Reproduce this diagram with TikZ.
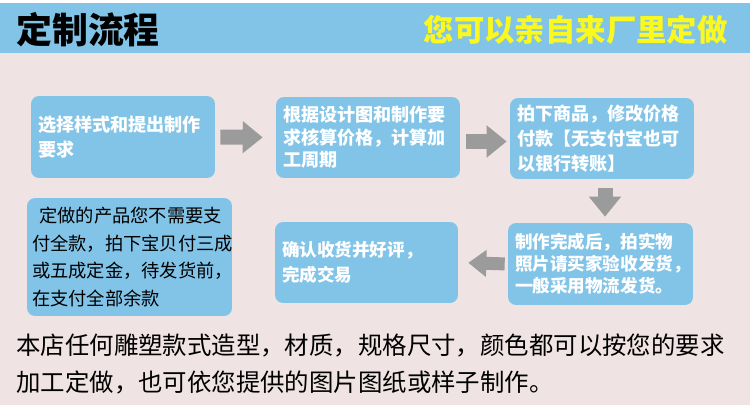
\documentclass[tikz,border=0pt]{standalone}
\usepackage{fontspec}
\setmainfont{Noto Sans CJK SC}
\usetikzlibrary{arrows.meta,positioning}

\definecolor{bandblue}{RGB}{130,196,232}
\definecolor{boxblue}{RGB}{130,196,232}
\definecolor{paper}{RGB}{239,227,227}
\definecolor{sloganyellow}{RGB}{250,248,30}
\definecolor{flowgray}{RGB}{155,155,155}

\begin{document}
\begin{tikzpicture}[
  x=0.02cm, y=-0.02cm,
  every node/.style={font=\fontsize{10.3}{13}\selectfont},
  box/.style={
    fill=boxblue,
    rounded corners=0.16cm,
    inner xsep=0.14cm,
    inner ysep=0pt,
    align=left,
    text=white
  },
  flow/.style={
    draw=flowgray,
    line width=0.3cm,
    -{Triangle[length=0.4cm,width=0.62cm]}
  }
]
% background and header band
\fill[paper] (0,0) rectangle (750,405);
\fill[white] (0,0) rectangle (750,3);
\fill[bandblue] (0,3) rectangle (750,53);
\useasboundingbox (0,0) rectangle (750,405);

\node[anchor=west, inner sep=0, font=\fontsize{20.4}{24}\selectfont\bfseries] (title) at (16,30) {定制流程};
\node[anchor=east, inner sep=0, text=sloganyellow, font=\fontsize{17.3}{20}\selectfont\bfseries] (slogan) at (728,30) {您可以亲自来厂里定做};

% process steps
\node[box, minimum width=3.68cm, minimum height=1.64cm, text width=3.4cm,
  font=\fontsize{10.3}{14.2}\selectfont\bfseries] (choose) at (123,137)
  {选择样式和提出制作\\要求};
\node[box, minimum width=3.68cm, minimum height=1.62cm, text width=3.4cm,
  font=\fontsize{10.3}{12.8}\selectfont\bfseries] (quote) at (368,137.5)
  {根据设计图和制作要\\求核算价格，计算加\\工周期};
\node[box, minimum width=3.68cm, minimum height=1.62cm, text width=3.4cm,
  font=\fontsize{10.3}{14.2}\selectfont\bfseries] (order) at (602,138.5)
  {拍下商品，修改价格\\付款【无支付宝也可\\以银行转账】};
\node[box, minimum width=3.7cm, minimum height=1.64cm, text width=3.42cm,
  font=\fontsize{10}{12.6}\selectfont\bfseries] (ship) at (600.5,264)
  {制作完成后，拍实物\\照片请买家验收发货，\\一般采用物流发货。};
\node[box, minimum width=3.66cm, minimum height=1.62cm, text width=3.38cm,
  font=\fontsize{10}{14.2}\selectfont\bfseries] (confirm) at (366.5,262.5)
  {确认收货并好评，\\完成交易};
\node[box, minimum width=4.1cm, minimum height=2.36cm, text width=3.9cm,
  inner xsep=0.1cm, text=black,
  font=\fontsize{10.4}{15.9}\selectfont] (deposit) at (129.5,257)
  {\hspace{0.4em}定做的产品您不需要支\\付全款，拍下宝贝付三成\\或五成定金，待发货前，\\在支付全部余款};

\draw[flow, shorten <=0.1cm, shorten >=0.26cm] (choose.east) -- (quote.west);
\draw[flow, shorten <=0.12cm, shorten >=0.06cm]
  ([yshift=-0.08cm]quote.east) -- ([yshift=-0.08cm]quote.east -| order.west);
\draw[flow, shorten <=0.18cm, shorten >=0.12cm]
  ([xshift=0.06cm]order.south) -- ([xshift=0.06cm]order.south |- ship.north);
\draw[flow, line width=0.26cm, -{Triangle[length=0.36cm,width=0.52cm]},
  shorten <=0.06cm, shorten >=0.2cm] (ship.west) -- (confirm.east);

% note
\node[anchor=west, inner sep=0, align=left,
  font=\fontsize{13.9}{21.5}\selectfont] (note) at (16,364)
  {本店任何雕塑款式造型，材质，规格尺寸，颜色都可以按您的要求\\加工定做，也可依您提供的图片图纸或样子制作。};
\end{tikzpicture}
\end{document}
